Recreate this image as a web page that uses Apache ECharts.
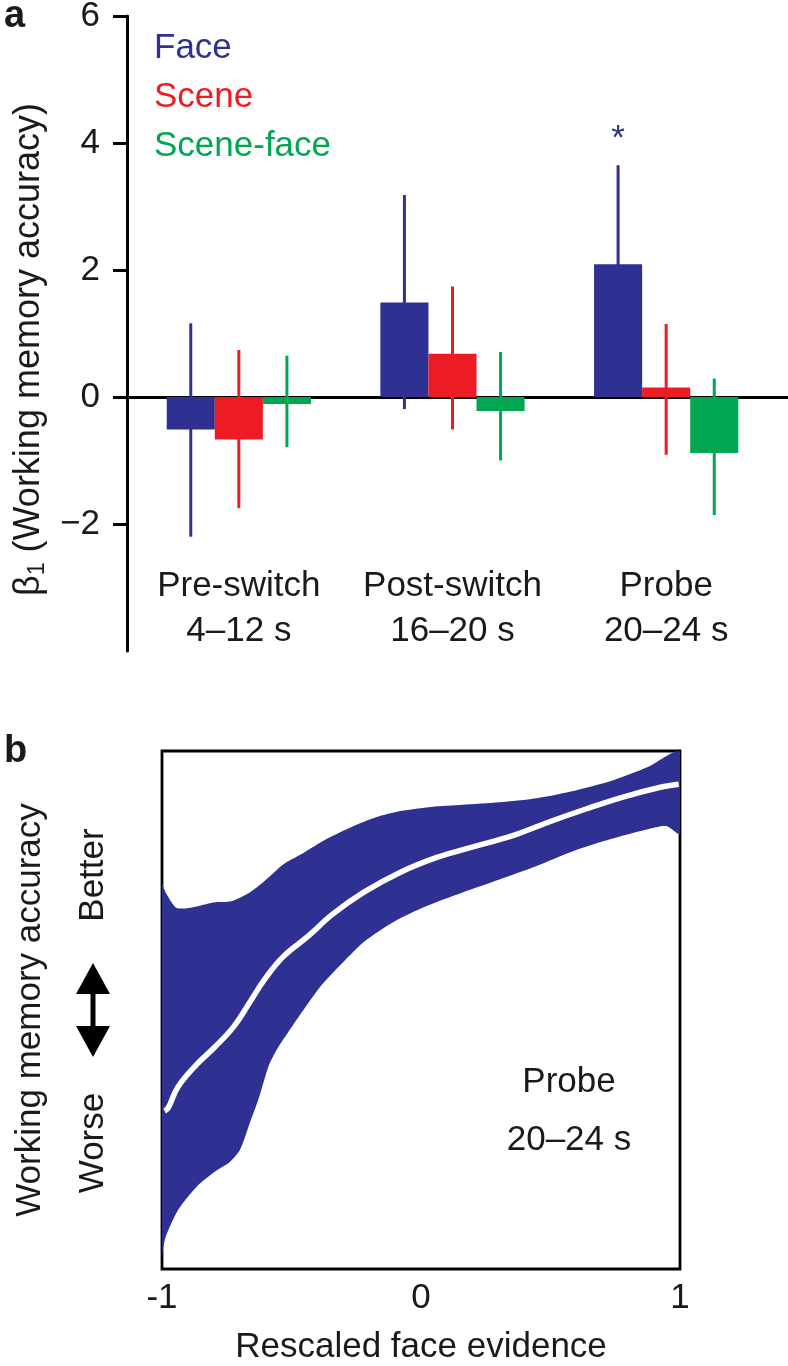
<!DOCTYPE html>
<html><head><meta charset="utf-8">
<script src="https://cdn.jsdelivr.net/npm/echarts@6/dist/echarts.min.js"></script>
<style>html,body{margin:0;padding:0;background:#fff}#c{width:788px;height:1366px}</style>
</head><body><div id="c"></div>
<script>
// ---------- Panel a data ----------
const categories = ['Pre-switch\n4–12 s', 'Post-switch\n16–20 s', 'Probe\n20–24 s'];
const seriesNames = ['Face', 'Scene', 'Scene-face'];
const faceBeta  = [-0.51, 1.49, 2.09];
const faceLow   = [-2.20, -0.19, 0.53];
const faceHigh  = [1.16, 3.18, 3.65];
const sceneBeta = [-0.67, 0.68, 0.15];
const sceneLow  = [-1.75, -0.51, -0.91];
const sceneHigh = [0.74, 1.74, 1.15];
const sfBeta    = [-0.11, -0.22, -0.88];
const sfLow     = [-0.79, -1.00, -1.86];
const sfHigh    = [0.65, 0.71, 0.29];
const faceSig   = ['', '', '*'];
const yTicksA   = [-2, 0, 2, 4, 6];

// ---------- Panel b data ----------
const xTicksB = [-1, 0, 1];
const upperX = [-1.000, -0.986, -0.947, -0.914, -0.866, -0.795, -0.733, -0.661, -0.604, -0.532, -0.461, -0.365, -0.270, -0.174, -0.079, 0.041, 0.160, 0.303, 0.446, 0.589, 0.733, 0.876, 1.000];
const upperY = [74.3, 72.7, 69.8, 69.6, 70.0, 70.8, 71.0, 72.7, 74.9, 78.1, 80.1, 83.0, 85.3, 87.2, 88.4, 89.2, 89.6, 90.1, 90.9, 92.3, 94.2, 96.9, 99.8];
const lowerX = [-1.000, -0.986, -0.938, -0.866, -0.795, -0.737, -0.699, -0.661, -0.628, -0.589, -0.556, -0.518, -0.461, -0.389, -0.317, -0.222, -0.103, 0.017, 0.160, 0.303, 0.446, 0.589, 0.733, 0.876, 0.947, 1.000];
const lowerY = [3.1, 6.2, 11.4, 15.9, 18.8, 20.7, 23.0, 28.2, 32.7, 39.1, 42.4, 45.3, 49.5, 54.5, 58.4, 63.1, 67.1, 70.0, 72.7, 75.2, 77.8, 80.7, 83.0, 84.9, 85.5, 84.0];
const fitX = [-0.990, -0.976, -0.938, -0.866, -0.795, -0.723, -0.661, -0.604, -0.532, -0.437, -0.341, -0.222, -0.079, 0.064, 0.208, 0.351, 0.494, 0.637, 0.780, 0.924, 0.995];
const fitY = [30.5, 31.1, 35.2, 39.5, 42.9, 46.8, 51.5, 55.9, 60.3, 64.2, 68.5, 72.7, 76.6, 79.5, 81.6, 83.6, 86.3, 88.8, 91.1, 93.0, 93.6];

const COLORS = ['#2e3192', '#ed1c24', '#00a651'];
const FONT = 'Liberation Sans, Arial, Helvetica, sans-serif';
const TXT = '#1a1a1a';
const FS = 35;
const BAR_FRAC = 0.225;

const chart = echarts.init(document.getElementById('c'), null, {renderer: 'canvas'});

const betas = [faceBeta, sceneBeta, sfBeta];
const lows = [faceLow, sceneLow, sfLow];
const highs = [faceHigh, sceneHigh, sfHigh];
const sigs = [faceSig, null, null];

const series = [];
seriesNames.forEach((name, i) => {
  series.push({
    type: 'bar', name, xAxisIndex: 0, yAxisIndex: 0,
    data: betas[i], barWidth: (BAR_FRAC * 100) + '%', barGap: '0%',
    itemStyle: {color: COLORS[i]}, z: 3, silent: true
  });
});
seriesNames.forEach((name, i) => {
  series.push({
    type: 'custom', name, xAxisIndex: 0, yAxisIndex: 0, z: 5, silent: true,
    data: lows[i].map((l, k) => [k, l, highs[i][k]]),
    renderItem(params, api) {
      const c = api.value(0);
      const band = api.size([1, 0])[0];
      const off = band * BAR_FRAC * (i - 1);
      const p1 = api.coord([c, api.value(1)]);
      const p2 = api.coord([c, api.value(2)]);
      const x = p1[0] + off;
      const children = [{type: 'line', shape: {x1: x, y1: p1[1], x2: x, y2: p2[1]},
        style: {stroke: COLORS[i], lineWidth: 3}}];
      const s = sigs[i] && sigs[i][params.dataIndex];
      if (s) children.push({type: 'text', x: x, y: p2[1] - 8,
        style: {text: s, align: 'center', verticalAlign: 'bottom', fill: COLORS[i], font: FS + 'px ' + FONT}});
      return {type: 'group', children};
    }
  });
});
// panel b confidence band
series.push({
  type: 'custom', xAxisIndex: 2, yAxisIndex: 2, clip: true, silent: true, z: 2,
  data: [[0, 50]],
  renderItem(params, api) {
    const pts = [];
    for (let k = 0; k < upperX.length; k++) pts.push(api.coord([upperX[k], upperY[k]]));
    for (let k = lowerX.length - 1; k >= 0; k--) pts.push(api.coord([lowerX[k], lowerY[k]]));
    return {type: 'polygon', shape: {points: pts, smooth: 0.25}, style: {fill: COLORS[0]}};
  }
});
series.push({
  type: 'line', xAxisIndex: 2, yAxisIndex: 2, z: 4, silent: true,
  data: fitX.map((x, k) => [x, fitY[k]]), smooth: 0.4, symbol: 'none',
  lineStyle: {color: '#ffffff', width: 5.5}
});

const option = {
  animation: false,
  backgroundColor: '#ffffff',
  textStyle: {fontFamily: FONT},
  legend: {
    selectedMode: false, orient: 'vertical', left: 144, top: 26, icon: 'none',
    itemWidth: 0, itemHeight: 14, itemGap: 14,
    textStyle: {fontSize: FS, fontFamily: FONT},
    data: seriesNames.map((n, i) => ({name: n, textStyle: {color: COLORS[i]}}))
  },
  grid: [
    {left: 132, top: 16, width: 641, height: 635, outerBoundsMode: 'none', containLabel: false},
    {left: 127, top: 16, right: 0, height: 635, outerBoundsMode: 'none', containLabel: false},
    {left: 162, top: 751, width: 518, height: 518, outerBoundsMode: 'none', containLabel: false,
      show: true, borderColor: '#000', borderWidth: 2.8, backgroundColor: 'transparent'}
  ],
  xAxis: [
    {gridIndex: 0, type: 'category', data: categories, position: 'bottom',
      axisLine: {show: false, onZero: false}, axisTick: {show: false},
      axisLabel: {margin: -87, fontSize: FS, lineHeight: 45, color: TXT, fontFamily: FONT, interval: 0}},
    {gridIndex: 1, type: 'value', min: 0, max: 1,
      axisLine: {show: true, onZero: true, lineStyle: {color: '#000', width: 3}},
      axisTick: {show: false}, axisLabel: {show: false}, splitLine: {show: false}},
    {gridIndex: 2, type: 'value', min: -1, max: 1, interval: 1,
      axisLine: {show: false}, axisTick: {show: false}, splitLine: {show: false},
      axisLabel: {customValues: xTicksB, margin: 12, fontSize: FS, color: TXT, fontFamily: FONT,
        formatter: v => (v < 0 ? '-' + Math.abs(v) : String(v))},
      name: 'Rescaled face evidence', nameLocation: 'middle', nameGap: 61,
      nameTextStyle: {fontSize: FS, color: TXT, fontFamily: FONT}}
  ],
  yAxis: [
    {gridIndex: 0, type: 'value', min: -4, max: 6, show: false},
    {gridIndex: 1, type: 'value', min: -4, max: 6, interval: 2,
      axisLine: {show: true, lineStyle: {color: '#000', width: 3}},
      axisTick: {show: true, inside: false, length: 14, customValues: yTicksA, lineStyle: {color: '#000', width: 3}},
      axisLabel: {customValues: yTicksA, margin: 27, fontSize: FS, color: TXT, fontFamily: FONT,
        formatter: v => (v < 0 ? '−' + Math.abs(v) : String(v))},
      splitLine: {show: false},
      name: '{n|β}{s|1}{n| (Working memory accuracy)}', nameLocation: 'middle', nameGap: 74, nameRotate: 90,
      nameTextStyle: {fontFamily: FONT, color: TXT, padding: [0, 32, 0, 0],
        rich: {n: {fontSize: 36, fontFamily: FONT, color: TXT, lineHeight: 40},
               s: {fontSize: 23, fontFamily: FONT, color: TXT, lineHeight: 40, verticalAlign: 'bottom'}}}},
    {gridIndex: 2, type: 'value', min: 0, max: 100,
      axisLine: {show: false}, axisTick: {show: false}, axisLabel: {show: false}, splitLine: {show: false},
      name: 'Working memory accuracy', nameLocation: 'middle', nameGap: 114, nameRotate: 90,
      nameTextStyle: {fontSize: FS, color: TXT, fontFamily: FONT}}
  ],
  graphic: [
    {type: 'text', left: 4, top: -2, style: {text: 'a', font: 'bold 38px ' + FONT, fill: TXT}},
    {type: 'text', left: 4, top: 733, style: {text: 'b', font: 'bold 38px ' + FONT, fill: TXT}},
    {type: 'text', x: 93, y: 875, rotation: Math.PI / 2,
      style: {text: 'Better', font: FS + 'px ' + FONT, fill: TXT, align: 'center', verticalAlign: 'middle'}},
    {type: 'text', x: 93, y: 1143, rotation: Math.PI / 2,
      style: {text: 'Worse', font: FS + 'px ' + FONT, fill: TXT, align: 'center', verticalAlign: 'middle'}},
    {type: 'rect', shape: {x: 90.5, y: 985, width: 5, height: 50}, style: {fill: '#000'}},
    {type: 'polygon', shape: {points: [[93, 963], [76, 994], [110, 994]]}, style: {fill: '#000'}},
    {type: 'polygon', shape: {points: [[93, 1057], [76, 1026], [110, 1026]]}, style: {fill: '#000'}},
    {type: 'text', x: 569, y: 1082, style: {text: 'Probe', font: FS + 'px ' + FONT, fill: TXT, align: 'center', verticalAlign: 'middle'}},
    {type: 'text', x: 569, y: 1140, style: {text: '20–24 s', font: FS + 'px ' + FONT, fill: TXT, align: 'center', verticalAlign: 'middle'}}
  ],
  series
};
chart.setOption(option);
</script></body></html>
